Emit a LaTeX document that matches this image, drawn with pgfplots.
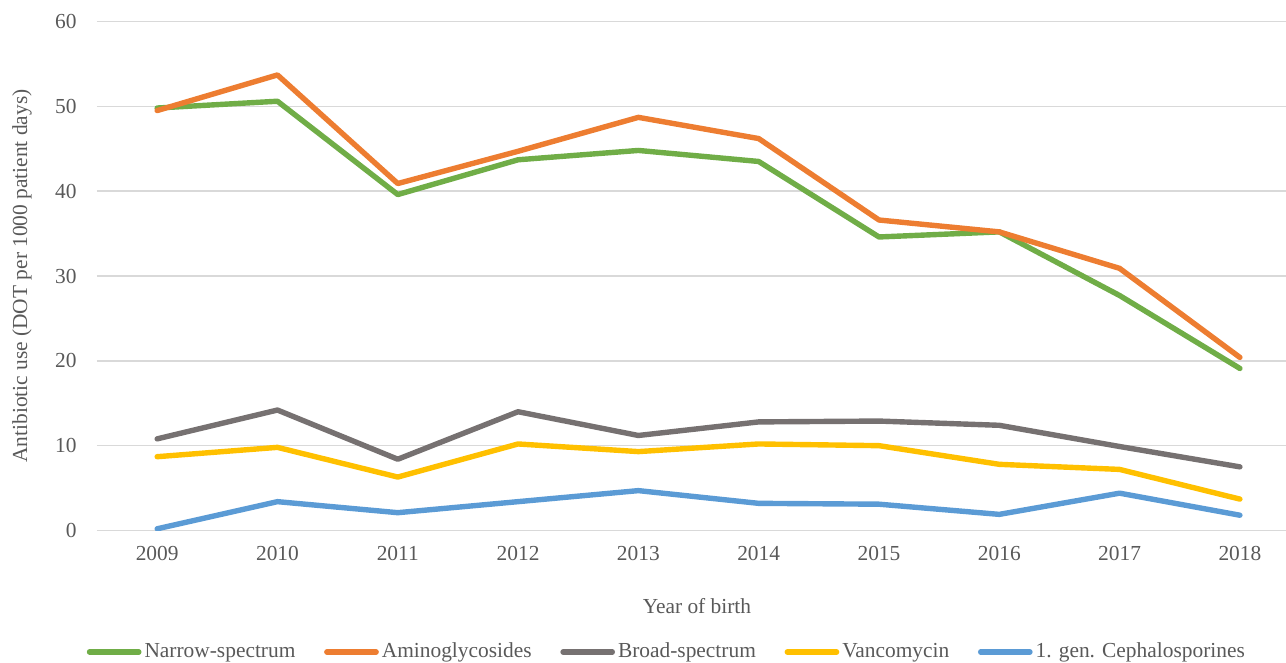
\documentclass[border=0pt]{standalone}
\usepackage{fontspec}
\setmainfont{Liberation Serif}
\usepackage{pgfplots}
\pgfplotsset{compat=1.18}
\definecolor{cgreen}{HTML}{70AD47}
\definecolor{corange}{HTML}{ED7D31}
\definecolor{cgray}{HTML}{767171}
\definecolor{cyellow}{HTML}{FFC000}
\definecolor{cblue}{HTML}{5B9BD5}
\definecolor{textgray}{HTML}{595959}
\definecolor{gridgray}{HTML}{D9D9D9}
\begin{document}
\fontsize{10.7}{12.8}\selectfont
\begin{tikzpicture}
\begin{axis}[
  scale only axis, width=594.5pt, height=254.5pt,
  xmin=-0.5, xmax=9.383, ymin=0, ymax=60,
  xtick={0,1,2,3,4,5,6,7,8,9},
  xticklabels={2009,2010,2011,2012,2013,2014,2015,2016,2017,2018},
  ytick={0,10,20,30,40,50,60},
  ymajorgrids, grid style={color=gridgray, line width=0.8pt},
  axis line style={draw=none}, tick style={draw=none},
  /pgf/number format/assume math mode=true,
  ticklabel style={font=\fontsize{10.7}{12.8}\selectfont, text=textgray},
  yticklabel style={xshift=-6.5pt},
  xticklabel style={yshift=-4pt},
  xlabel={Year of birth},
  ylabel={Antibiotic use (DOT per 1000 patient days)},
  label style={font=\fontsize{10.7}{12.8}\selectfont, text=textgray},
  xlabel style={at={(axis description cs:0.5046,0)}, anchor=center, yshift=-37.75pt},
  ylabel style={at={(axis description cs:-0.0631,0.5)}, anchor=center},
  legend columns=-1,
  legend style={at={(axis description cs:0.4773,0)}, anchor=center, yshift=-60.75pt,
    draw=none, fill=none, font=\fontsize{10.7}{12.8}\selectfont, text=textgray,
    /tikz/every even column/.append style={column sep=13pt},
    nodes={inner sep=0pt}},
  legend image code/.code={\path (0pt,0pt) (27.5pt,0pt);\draw[#1, line width=2.7pt, line cap=round] (1.35pt,0pt) -- (26pt,0pt);},
  every axis plot/.append style={line width=2.7pt, line join=round, line cap=round, no markers},
]
\addplot[cgreen] coordinates {(0,49.8) (1,50.6) (2,39.6) (3,43.7) (4,44.8) (5,43.5) (6,34.6) (7,35.2) (8,27.7) (9,19.1)};
\addlegendentry{Narrow-spectrum}
\addplot[corange] coordinates {(0,49.5) (1,53.7) (2,40.9) (3,44.7) (4,48.7) (5,46.2) (6,36.6) (7,35.2) (8,30.9) (9,20.4)};
\addlegendentry{Aminoglycosides}
\addplot[cgray] coordinates {(0,10.8) (1,14.2) (2,8.4) (3,14.0) (4,11.2) (5,12.8) (6,12.9) (7,12.4) (8,9.9) (9,7.5)};
\addlegendentry{Broad-spectrum}
\addplot[cyellow] coordinates {(0,8.7) (1,9.8) (2,6.3) (3,10.2) (4,9.3) (5,10.2) (6,10.0) (7,7.8) (8,7.2) (9,3.7)};
\addlegendentry{Vancomycin}
\addplot[cblue] coordinates {(0,0.2) (1,3.4) (2,2.1) (3,3.4) (4,4.7) (5,3.2) (6,3.1) (7,1.9) (8,4.4) (9,1.8)};
\addlegendentry{1. gen. Cephalosporines}
\end{axis}
\pgfresetboundingbox
\path[use as bounding box] (-48.5pt,-66.25pt) rectangle (594.5pt,265.25pt);
\end{tikzpicture}
\end{document}
